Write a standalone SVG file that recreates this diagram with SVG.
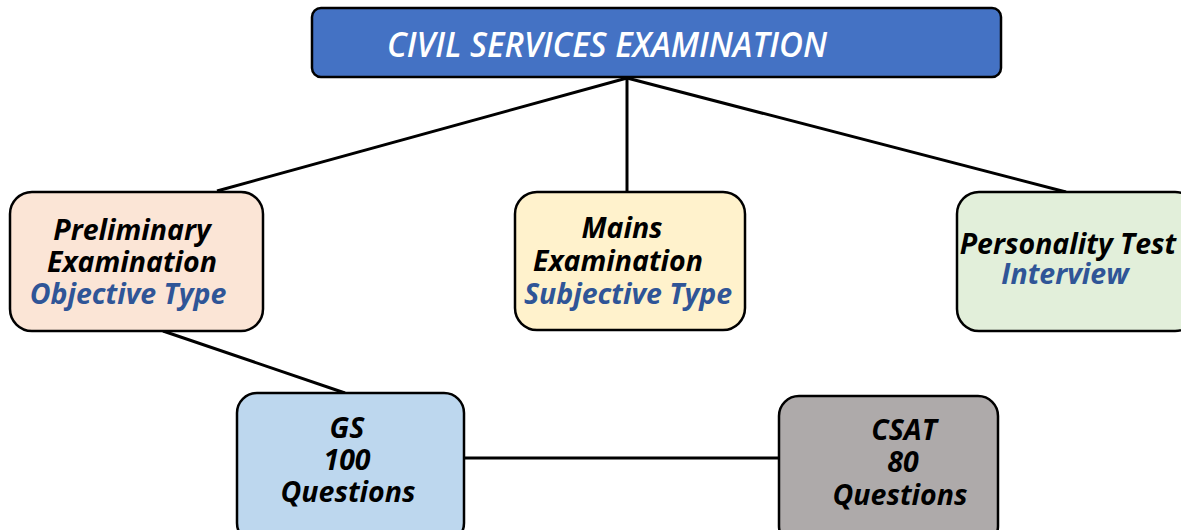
<svg xmlns="http://www.w3.org/2000/svg" width="1181" height="530" viewBox="0 0 1181 530">
<style>
.box{stroke:#000;stroke-width:2.5}
.t{font-family:"Open Sans",sans-serif;font-weight:700;font-style:italic;font-size:28.5px;text-anchor:middle;fill:#000}
.b{fill:#2F5597}
.ln{stroke:#000;stroke-width:3;fill:none}
</style>
<rect width="1181" height="530" fill="#fff"/>
<g id="connectors">
<line class="ln" x1="627" y1="78" x2="217" y2="191"/>
<line class="ln" x1="627" y1="78" x2="627" y2="191"/>
<line class="ln" x1="627" y1="78" x2="1066" y2="192"/>
<line class="ln" x1="163" y1="331" x2="345" y2="393"/>
<line class="ln" x1="464" y1="458" x2="779" y2="458"/>
</g>
<g id="cse">
<rect class="box" x="312" y="8" width="689" height="69" rx="9" fill="#4472C4"/>
<text x="607" y="57" style="font-family:'Open Sans',sans-serif;font-weight:600;font-style:italic;font-size:34px;fill:#fff;text-anchor:middle" textLength="440" lengthAdjust="spacingAndGlyphs">CIVIL SERVICES EXAMINATION</text>
</g>
<g id="prelim">
<rect class="box" x="10" y="192" width="253" height="139" rx="22" fill="#FBE5D6"/>
<text class="t" x="132" y="240">Preliminary</text>
<text class="t" x="132" y="272">Examination</text>
<text class="t b" x="128" y="304">Objective Type</text>
</g>
<g id="mains">
<rect class="box" x="515" y="192" width="230" height="138" rx="22" fill="#FFF2CC"/>
<text class="t" x="622" y="238">Mains</text>
<text class="t" x="618" y="271">Examination</text>
<text class="t b" x="628" y="304">Subjective Type</text>
</g>
<g id="personality">
<rect class="box" x="957" y="192" width="240" height="139" rx="22" fill="#E2EFDA"/>
<text class="t" x="1068" y="254">Personality Test</text>
<text class="t b" x="1065" y="284">Interview</text>
</g>
<g id="gs">
<rect class="box" x="237" y="393" width="227" height="150" rx="20" fill="#BDD7EE"/>
<text class="t" x="347" y="438">GS</text>
<text class="t" x="347" y="470">100</text>
<text class="t" x="348" y="502">Questions</text>
</g>
<g id="csat">
<rect class="box" x="779" y="396" width="219" height="150" rx="20" fill="#AEAAAA"/>
<text class="t" x="904" y="440">CSAT</text>
<text class="t" x="903" y="472">80</text>
<text class="t" x="900" y="505">Questions</text>
</g>
</svg>
